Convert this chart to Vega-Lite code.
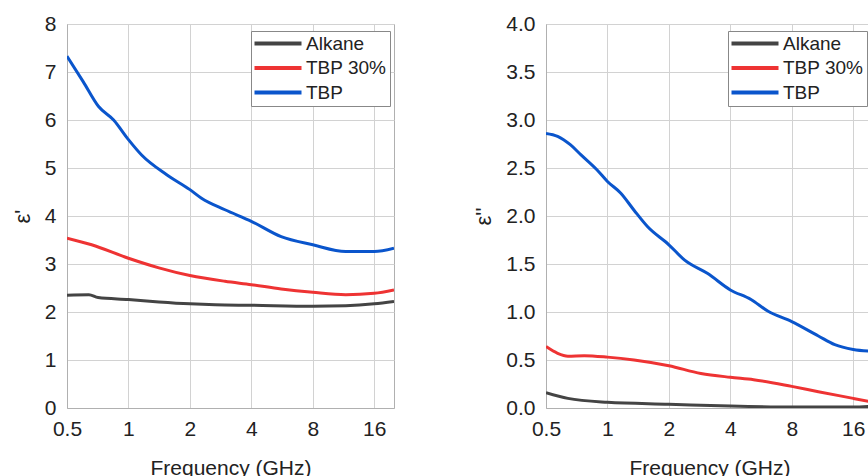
{
  "$schema": "https://vega.github.io/schema/vega-lite/v6.json",
  "background": "white",
  "padding": {"left": 10, "top": 12, "right": 0, "bottom": 0},
  "spacing": 77,
  "config": {
    "font": "Liberation Sans",
    "view": {"stroke": "#b0b0b0", "strokeWidth": 1},
    "axis": {
      "labelFont": "Liberation Sans", "labelFontSize": 21, "labelColor": "#222",
      "titleFont": "Liberation Sans", "titleFontSize": 21, "titleColor": "#222", "titleFontWeight": "normal",
      "grid": true, "gridColor": "#d2d2d2", "gridWidth": 1,
      "domainColor": "#b0b0b0", "ticks": false,
      "labelFlush": false, "labelOverlap": false
    },
    "legend": {
      "labelFont": "Liberation Sans", "labelFontSize": 19, "labelColor": "#222",
      "strokeColor": "#888", "fillColor": "white", "padding": 3,
      "symbolType": "M-4.5,0H19", "symbolSize": 16, "symbolStrokeWidth": 4,
      "labelOffset": 33, "rowPadding": 4.5, "title": null,
      "orient": "none", "legendX": 184, "legendY": 7
    }
  },
  "datasets": {
    "real": [
      {"f": 0.5, "v": 7.33, "s": "TBP"}, {"f": 0.6, "v": 6.8, "s": "TBP"}, {"f": 0.714, "v": 6.28, "s": "TBP"}, {"f": 0.846, "v": 6.0, "s": "TBP"}, {"f": 1, "v": 5.59, "s": "TBP"}, {"f": 1.16, "v": 5.27, "s": "TBP"}, {"f": 1.54, "v": 4.86, "s": "TBP"}, {"f": 2, "v": 4.55, "s": "TBP"}, {"f": 2.28, "v": 4.37, "s": "TBP"}, {"f": 2.97, "v": 4.13, "s": "TBP"}, {"f": 4, "v": 3.89, "s": "TBP"}, {"f": 5.6, "v": 3.57, "s": "TBP"}, {"f": 8, "v": 3.4, "s": "TBP"}, {"f": 11.6, "v": 3.26, "s": "TBP"}, {"f": 16, "v": 3.26, "s": "TBP"}, {"f": 20, "v": 3.33, "s": "TBP"},
      {"f": 0.5, "v": 3.54, "s": "TBP 30%"}, {"f": 0.66, "v": 3.4, "s": "TBP 30%"}, {"f": 1, "v": 3.12, "s": "TBP 30%"}, {"f": 1.41, "v": 2.92, "s": "TBP 30%"}, {"f": 2, "v": 2.76, "s": "TBP 30%"}, {"f": 2.97, "v": 2.64, "s": "TBP 30%"}, {"f": 4, "v": 2.57, "s": "TBP 30%"}, {"f": 5.6, "v": 2.48, "s": "TBP 30%"}, {"f": 8, "v": 2.41, "s": "TBP 30%"}, {"f": 11.6, "v": 2.36, "s": "TBP 30%"}, {"f": 16, "v": 2.39, "s": "TBP 30%"}, {"f": 20, "v": 2.46, "s": "TBP 30%"},
      {"f": 0.5, "v": 2.35, "s": "Alkane"}, {"f": 0.64, "v": 2.36, "s": "Alkane"}, {"f": 0.71, "v": 2.3, "s": "Alkane"}, {"f": 1, "v": 2.26, "s": "Alkane"}, {"f": 1.41, "v": 2.21, "s": "Alkane"}, {"f": 2, "v": 2.17, "s": "Alkane"}, {"f": 2.66, "v": 2.15, "s": "Alkane"}, {"f": 4, "v": 2.14, "s": "Alkane"}, {"f": 8, "v": 2.12, "s": "Alkane"}, {"f": 11.6, "v": 2.13, "s": "Alkane"}, {"f": 16, "v": 2.17, "s": "Alkane"}, {"f": 20, "v": 2.22, "s": "Alkane"}
    ],
    "imag": [
      {"f": 0.5, "v": 2.86, "s": "TBP"}, {"f": 0.57, "v": 2.83, "s": "TBP"}, {"f": 0.66, "v": 2.74, "s": "TBP"}, {"f": 0.74, "v": 2.64, "s": "TBP"}, {"f": 0.89, "v": 2.48, "s": "TBP"}, {"f": 1, "v": 2.36, "s": "TBP"}, {"f": 1.16, "v": 2.24, "s": "TBP"}, {"f": 1.35, "v": 2.06, "s": "TBP"}, {"f": 1.57, "v": 1.89, "s": "TBP"}, {"f": 2, "v": 1.7, "s": "TBP"}, {"f": 2.39, "v": 1.54, "s": "TBP"}, {"f": 3.1, "v": 1.4, "s": "TBP"}, {"f": 4, "v": 1.23, "s": "TBP"}, {"f": 5.05, "v": 1.13, "s": "TBP"}, {"f": 6.1, "v": 1.01, "s": "TBP"}, {"f": 8, "v": 0.9, "s": "TBP"}, {"f": 10.8, "v": 0.75, "s": "TBP"}, {"f": 13, "v": 0.66, "s": "TBP"}, {"f": 16, "v": 0.61, "s": "TBP"}, {"f": 20, "v": 0.59, "s": "TBP"},
      {"f": 0.5, "v": 0.64, "s": "TBP 30%"}, {"f": 0.57, "v": 0.57, "s": "TBP 30%"}, {"f": 0.64, "v": 0.54, "s": "TBP 30%"}, {"f": 0.77, "v": 0.545, "s": "TBP 30%"}, {"f": 1, "v": 0.53, "s": "TBP 30%"}, {"f": 1.35, "v": 0.5, "s": "TBP 30%"}, {"f": 2, "v": 0.44, "s": "TBP 30%"}, {"f": 2.87, "v": 0.36, "s": "TBP 30%"}, {"f": 4, "v": 0.32, "s": "TBP 30%"}, {"f": 5.2, "v": 0.295, "s": "TBP 30%"}, {"f": 8, "v": 0.225, "s": "TBP 30%"}, {"f": 10.8, "v": 0.17, "s": "TBP 30%"}, {"f": 16, "v": 0.1, "s": "TBP 30%"}, {"f": 20, "v": 0.06, "s": "TBP 30%"},
      {"f": 0.5, "v": 0.16, "s": "Alkane"}, {"f": 0.64, "v": 0.1, "s": "Alkane"}, {"f": 1, "v": 0.06, "s": "Alkane"}, {"f": 2, "v": 0.04, "s": "Alkane"}, {"f": 4, "v": 0.02, "s": "Alkane"}, {"f": 8, "v": 0.01, "s": "Alkane"}, {"f": 16, "v": 0.01, "s": "Alkane"}, {"f": 20, "v": 0.02, "s": "Alkane"}
    ]
  },
  "resolve": {"legend": {"color": "independent"}},
  "hconcat": [
    {
      "width": 327, "height": 384,
      "data": {"name": "real"},
      "mark": {"type": "line", "strokeWidth": 3, "clip": true, "interpolate": "monotone"},
      "encoding": {
        "x": {"field": "f", "type": "quantitative", "scale": {"type": "log", "domain": [0.5, 20], "nice": false},
              "axis": {"values": [0.5, 1, 2, 4, 8, 16], "title": "Frequency (GHz)", "titlePadding": 18, "labelPadding": 10, "format": "~g"}},
        "y": {"field": "v", "type": "quantitative", "scale": {"domain": [0, 8], "nice": false},
              "axis": {"values": [0, 1, 2, 3, 4, 5, 6, 7, 8], "title": "ε'", "titleFontSize": 22, "titlePadding": 10, "labelPadding": 11}},
        "color": {"field": "s", "type": "nominal", "sort": ["Alkane", "TBP 30%", "TBP"],
                  "scale": {"domain": ["Alkane", "TBP 30%", "TBP"], "range": ["#444444", "#ee3333", "#0a55cc"]}}
      }
    },
    {
      "width": 327, "height": 384,
      "data": {"name": "imag"},
      "mark": {"type": "line", "strokeWidth": 3, "clip": true, "interpolate": "monotone"},
      "encoding": {
        "x": {"field": "f", "type": "quantitative", "scale": {"type": "log", "domain": [0.5, 20], "nice": false},
              "axis": {"values": [0.5, 1, 2, 4, 8, 16], "title": "Frequency (GHz)", "titlePadding": 18, "labelPadding": 10, "format": "~g"}},
        "y": {"field": "v", "type": "quantitative", "scale": {"domain": [0, 4], "nice": false},
              "axis": {"values": [0, 0.5, 1, 1.5, 2, 2.5, 3, 3.5, 4], "format": ".1f", "title": "ε''", "titleFontSize": 22, "titlePadding": 10, "labelPadding": 11}},
        "color": {"field": "s", "type": "nominal", "sort": ["Alkane", "TBP 30%", "TBP"],
                  "scale": {"domain": ["Alkane", "TBP 30%", "TBP"], "range": ["#444444", "#ee3333", "#0a55cc"]},
                  "legend": {"legendX": 182}}
      }
    }
  ]
}
